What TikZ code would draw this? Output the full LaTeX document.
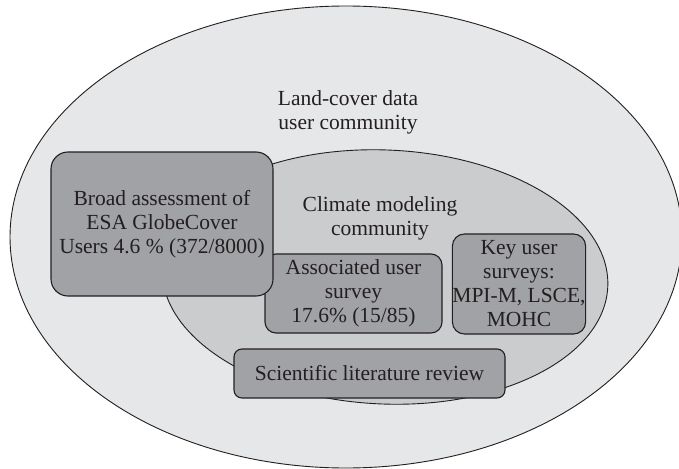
\documentclass[tikz,border=0pt]{standalone}
\usepackage{fontspec}
\setmainfont{Liberation Serif}
\definecolor{outerfill}{HTML}{E6E7E8}
\definecolor{innerfill}{HTML}{CBCCCE}
\definecolor{boxfill}{HTML}{A1A2A5}
\definecolor{ink}{HTML}{231F20}
\begin{document}
\begin{tikzpicture}[x=1pt,y=-1pt,
  lbl/.style={text=ink,align=center,font=\fontsize{21.5}{24}\selectfont,inner sep=0pt},
  boxnode/.style={lbl,draw=ink,line width=1.1pt,fill=boxfill,minimum width=#1},
  ring/.style={draw=ink,line width=0.9pt}]
\useasboundingbox (0,0) rectangle (679,468);
\clip (0,0) rectangle (679,468);
\fill[white] (0,0) rectangle (679,468);
% outer community
\path[ring,fill=outerfill] (346,237) ellipse [x radius=336, y radius=231];
\node[lbl] (land) at (348,112) {Land-cover data\\user community};
% inner community
\path[ring,fill=innerfill,rotate around={-2.5:(385,277)}] (385,277) ellipse [x radius=223, y radius=127];
\node[lbl] (climate) at (380,218) {Climate modeling\\community};
% boxes
\node[boxnode=177pt,minimum height=79pt,rounded corners=11pt] (assoc) at (353.5,293.5)
  {Associated user\\survey\\17.6\% (15/85)};
\node[boxnode=222pt,minimum height=144pt,rounded corners=17pt] (broad) at (162,224)
  {Broad assessment of\\ESA GlobeCover\\Users 4.6 \% (372/8000)};
\node[boxnode=132pt,minimum height=100pt,rounded corners=12pt] (key) at (519,284)
  {Key user\\surveys:\\MPI-M, LSCE,\\MOHC};
\node[boxnode=271pt,minimum height=49pt,rounded corners=8pt] (sci) at (369.5,373.5)
  {Scientific literature review};
\end{tikzpicture}
\end{document}
